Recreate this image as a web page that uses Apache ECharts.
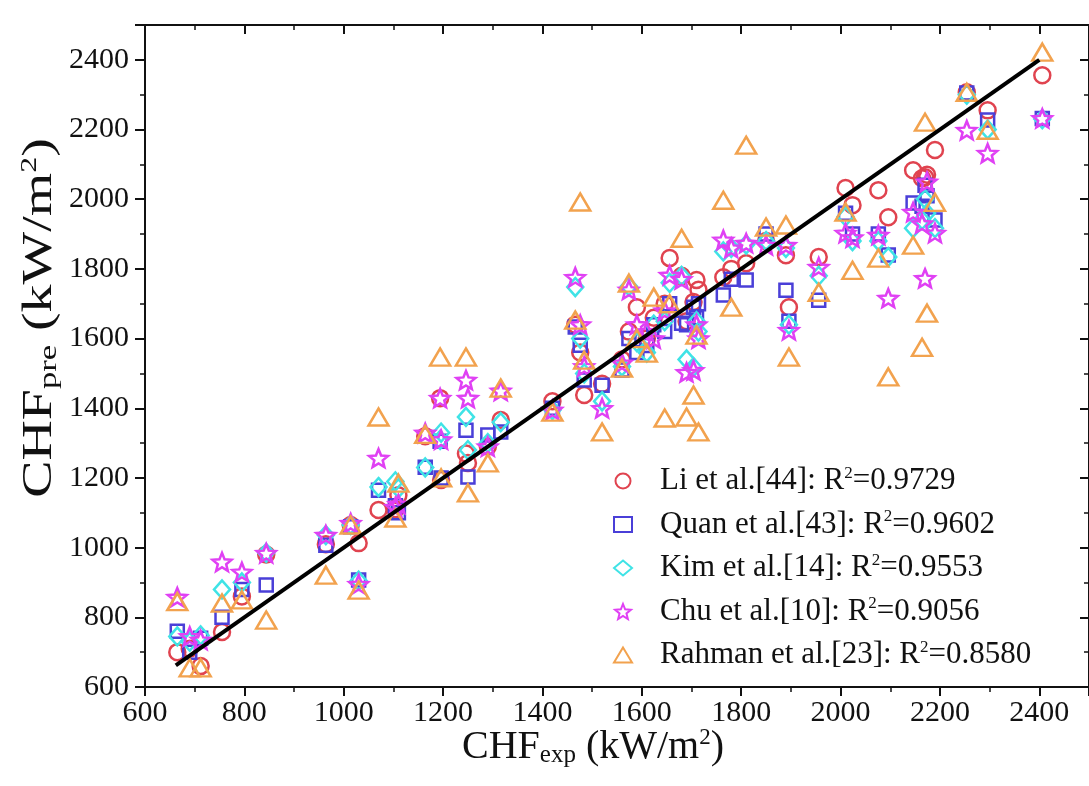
<!DOCTYPE html>
<html><head><meta charset="utf-8">
<script src="https://cdn.jsdelivr.net/npm/echarts@6/dist/echarts.min.js"></script>
<style>html,body{margin:0;padding:0;background:#fff}#c{width:1089px;height:786px}</style>
</head><body><div id="c"></div>
<script>
const chfExp = [665, 690, 712, 755, 795, 844, 964, 1014, 1030, 1070, 1104, 1110, 1164, 1194, 1196, 1246, 1250, 1290, 1316, 1420, 1466, 1476, 1484, 1520, 1560, 1574, 1590, 1610, 1624, 1646, 1656, 1680, 1690, 1704, 1710, 1714, 1764, 1780, 1810, 1850, 1890, 1896, 1956, 2010, 2024, 2076, 2096, 2146, 2164, 2170, 2174, 2190, 2254, 2296, 2406];
const liPre = [700, 710, 660, 758, 860, 980, 1010, 1065, 1013, 1108, 1110, 1150, 1320, 1429, 1194, 1270, 1243, 1290, 1366, 1420, 1640, 1560, 1438, 1470, 1540, 1620, 1690, 1600, 1660, 1700, 1831, 1780, 1650, 1705, 1768, 1740, 1776, 1800, 1816, 1880, 1839, 1690, 1834, 2032, 1983, 2026, 1948, 2083, 2060, 2063, 2070, 2141, 2307, 2255, 2356];
const quanPre = [760, 700, 740, 800, 880, 893, 1007, 1060, 907, 1165, 1120, 1100, 1231, 1305, 1200, 1337, 1203, 1323, 1332, 1400, 1633, 1581, 1481, 1466, 1510, 1600, 1560, 1580, 1640, 1620, 1700, 1644, 1640, 1690, 1660, 1700, 1725, 1770, 1768, 1900, 1739, 1650, 1710, 1960, 1900, 1900, 1840, 1989, 1980, 2040, 2010, 1940, 2305, 2227, 2232];
const kimPre = [745, 730, 748, 880, 900, 985, 1036, 1065, 905, 1174, 1190, 1170, 1230, 1309, 1330, 1375, 1280, 1300, 1360, 1395, 1748, 1600, 1500, 1420, 1520, 1750, 1590, 1560, 1640, 1650, 1760, 1780, 1540, 1518, 1650, 1620, 1850, 1860, 1870, 1880, 1860, 1640, 1780, 1950, 1880, 1880, 1834, 1917, 1940, 2000, 1960, 1917, 2300, 2200, 2230];
const chuPre = [858, 745, 735, 959, 930, 984, 1036, 1070, 895, 1257, 1116, 1125, 1329, 1429, 1310, 1481, 1429, 1290, 1450, 1395, 1776, 1640, 1520, 1400, 1530, 1740, 1640, 1620, 1600, 1680, 1782, 1770, 1503, 1509, 1640, 1600, 1883, 1860, 1874, 1868, 1868, 1624, 1805, 1903, 1890, 1897, 1716, 1963, 1930, 1773, 2050, 1903, 2198, 2132, 2232];
const rahmanPre = [845, 655, 655, 841, 850, 792, 921, 1065, 878, 1375, 1085, 1185, 1325, 1547, 1200, 1547, 1157, 1243, 1458, 1389, 1653, 1992, 1538, 1332, 1515, 1759, 1600, 1558, 1719, 1372, 1700, 1888, 1375, 1438, 1610, 1332, 1997, 1690, 2155, 1920, 1926, 1547, 1733, 1963, 1796, 1831, 1490, 1868, 1575, 2221, 1673, 1991, 2307, 2198, 2422];
const seriesNames = ['Li et al.[44]', 'Quan et al.[43]', 'Kim et al.[14]', 'Chu et al.[10]', 'Rahman et al.[23]'];
const r2Values = ['0.9729', '0.9602', '0.9553', '0.9056', '0.8580'];
const refLine = [[662, 662], [2400, 2400]];
const xTicks = { min: 600, max: 2500, interval: 200 };
const yTicks = { min: 600, max: 2500, interval: 200 };

const serif = 'Liberation Serif';
const STAR = 'path://M50,0L62.93,32.2L97.55,34.55L70.92,56.8L79.39,90.45L50,72L20.61,90.45L29.08,56.8L2.45,34.55L37.07,32.2Z';
const styles = [
  { symbol: 'circle', size: 16, color: '#e0434f' },
  { symbol: 'rect', size: 13, color: '#4a3fd8' },
  { symbol: 'diamond', size: [16, 18], color: '#3fe3e6' },
  { symbol: STAR, size: [19, 18], color: '#e040f4' },
  { symbol: 'triangle', size: [20, 17], color: '#f2a24e' }
];
const preArrays = [liPre, quanPre, kimPre, chuPre, rahmanPre];

const scatterSeries = preArrays.map((arr, i) => ({
  name: seriesNames[i],
  type: 'scatter',
  data: chfExp.map((x, j) => [x, arr[j]]),
  symbol: styles[i].symbol,
  symbolSize: styles[i].size,
  itemStyle: { color: 'rgba(255,255,255,0)', borderColor: styles[i].color, borderWidth: 2.5, opacity: 1 },
  z: 2 + i
}));

const plain = v => String(v);
const chart = echarts.init(document.getElementById('c'), null, { renderer: 'canvas' });
const axisCommon = {
  type: 'value',
  splitLine: { show: false },
  axisLine: { show: true, onZero: false, lineStyle: { color: '#111', width: 2 } }
};
chart.setOption({
  animation: false,
  backgroundColor: '#ffffff',
  grid: { left: 145, top: 25, width: 950, height: 662 },
  xAxis: [
    Object.assign({}, axisCommon, {
      position: 'bottom', min: xTicks.min, max: xTicks.max, interval: xTicks.interval,
      axisTick: { show: true, inside: false, length: 9, lineStyle: { color: '#111', width: 2 } },
      minorTick: { show: true, splitNumber: 2, length: 5, lineStyle: { color: '#111', width: 1.5 } },
      axisLabel: { show: true, showMaxLabel: false, margin: 11, formatter: plain, fontFamily: serif, fontSize: 30, color: '#111' }
    }),
    Object.assign({}, axisCommon, {
      position: 'top', min: xTicks.min, max: xTicks.max, interval: xTicks.interval,
      axisTick: { show: true, inside: true, length: 9, lineStyle: { color: '#111', width: 2 } },
      minorTick: { show: true, splitNumber: 2, length: 5, lineStyle: { color: '#111', width: 1.5 } },
      axisLabel: { show: false }
    })
  ],
  yAxis: [
    Object.assign({}, axisCommon, {
      position: 'left', min: yTicks.min, max: yTicks.max, interval: yTicks.interval,
      axisTick: { show: true, inside: false, length: 10, lineStyle: { color: '#111', width: 2 } },
      minorTick: { show: true, splitNumber: 2, length: 5, lineStyle: { color: '#111', width: 1.5 } },
      axisLabel: { show: true, showMaxLabel: false, margin: 16, formatter: plain, fontFamily: serif, fontSize: 30, color: '#111' }
    }),
    Object.assign({}, axisCommon, {
      position: 'right', min: yTicks.min, max: yTicks.max, interval: yTicks.interval,
      axisTick: { show: true, inside: true, length: 9, lineStyle: { color: '#111', width: 2 } },
      minorTick: { show: true, splitNumber: 2, length: 5, lineStyle: { color: '#111', width: 1.5 } },
      axisLabel: { show: false }
    })
  ],
  legend: {
    orient: 'vertical',
    left: 608, top: 460,
    itemWidth: 18, itemHeight: 15, itemGap: 12,
    data: seriesNames,
    formatter: function (name) {
      const i = seriesNames.indexOf(name);
      return '{a|' + name + ': R}{s|2}{a|=' + r2Values[i] + '}';
    },
    textStyle: {
      padding: [0, 0, 0, 23],
      rich: {
        a: { fontFamily: serif, fontSize: 31, lineHeight: 32, color: '#111' },
        s: { fontFamily: serif, fontSize: 17, lineHeight: 10, verticalAlign: 'top', color: '#111' }
      }
    }
  },
  graphic: [
    {
      type: 'text', x: 593, y: 747,
      style: {
        text: '{a|CHF}{b|exp}{a| (kW/m}{c|2}{a|)}',
        align: 'center', verticalAlign: 'middle',
        rich: {
          a: { fontFamily: serif, fontSize: 40, lineHeight: 42, fill: '#111' },
          b: { fontFamily: serif, fontSize: 25, lineHeight: 8, verticalAlign: 'bottom', fill: '#111' },
          c: { fontFamily: serif, fontSize: 23, lineHeight: 12, verticalAlign: 'top', fill: '#111' }
        }
      }
    },
    {
      type: 'text', x: 40, y: 318, rotation: Math.PI / 2, scaleX: 1.33, scaleY: 1,
      style: {
        text: '{a|CHF}{b|pre}{a| (kW/m}{c|2}{a|)}',
        align: 'center', verticalAlign: 'middle',
        rich: {
          a: { fontFamily: serif, fontSize: 42, lineHeight: 44, fill: '#111' },
          b: { fontFamily: serif, fontSize: 26, lineHeight: 8, verticalAlign: 'bottom', fill: '#111' },
          c: { fontFamily: serif, fontSize: 24, lineHeight: 12, verticalAlign: 'top', fill: '#111' }
        }
      }
    }
  ],
  series: scatterSeries.concat([{
    type: 'line', data: refLine, symbol: 'none', silent: true,
    lineStyle: { color: '#000', width: 4 }, z: 10
  }])
});
</script></body></html>
